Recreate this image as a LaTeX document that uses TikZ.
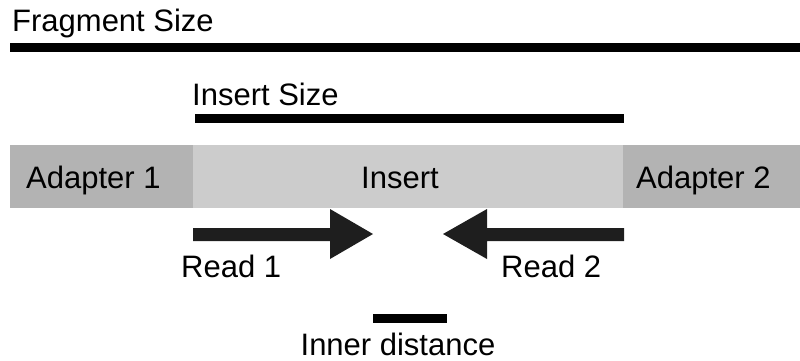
\documentclass[tikz,border=0pt]{standalone}
\usepackage{fontspec}
\setmainfont{Liberation Sans}
\begin{document}
\begin{tikzpicture}[x=1pt,y=-1pt,
  lbl/.style={inner sep=0pt,font=\fontsize{31}{32}\selectfont,anchor=base west},
  bar/.style={fill=black},
  adapterbox/.style={fill=adaptgray},
  insertbox/.style={fill=insertgray},
  readarrow/.style={fill=arrowgray}]
\definecolor{adaptgray}{HTML}{B3B3B3}
\definecolor{insertgray}{HTML}{CCCCCC}
\definecolor{arrowgray}{HTML}{1E1E1E}
\useasboundingbox (0,0) rectangle (800,360);
% bars
\fill[bar] (10,43) rectangle (800,52);
\fill[bar] (195,114) rectangle (624,123);
\fill[bar] (373,314) rectangle (447,323);
% boxes
\fill[adapterbox] (10,145) rectangle (193,208);
\fill[insertbox] (193,145) rectangle (623,208);
\fill[adapterbox] (623,145) rectangle (800,208);
% arrows
\fill[readarrow] (193,228) -- (330,228) -- (330,209) -- (373,234) -- (330,259) -- (330,241) -- (193,241) -- cycle;
\fill[readarrow] (624,228) -- (487,228) -- (487,209) -- (443,234) -- (487,259) -- (487,241) -- (624,241) -- cycle;
% labels
\node[lbl] (frag) at (12,31) {Fragment Size};
\node[lbl] (ins) at (192,105) {Insert Size};
\node[lbl] (ad1) at (26,188) {Adapter 1};
\node[lbl,anchor=base] (insert) at (400,188) {Insert};
\node[lbl] (ad2) at (636,188) {Adapter 2};
\node[lbl] (r1) at (181,277) {Read 1};
\node[lbl] (r2) at (501,277) {Read 2};
\node[lbl,anchor=base] (inner) at (398,355) {Inner distance};
\end{tikzpicture}
\end{document}
